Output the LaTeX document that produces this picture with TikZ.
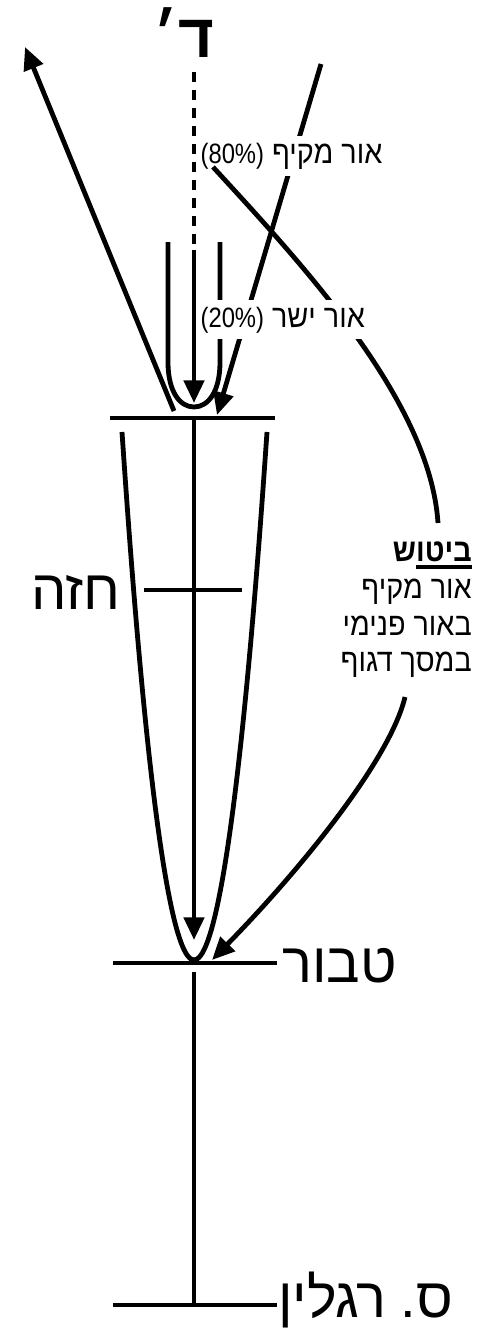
\documentclass[tikz,border=0pt]{standalone}
\usepackage{fontspec}
\setmainfont{Liberation Sans}
\newfontfamily\heb[Script=Hebrew]{Liberation Sans}
\newfontfamily\hebn[Script=Hebrew,FakeStretch=0.9]{Liberation Sans}
\newfontfamily\digitfont[FakeStretch=0.85]{Liberation Sans}
\TeXXeTstate=1
\usetikzlibrary{arrows.meta,calc}
% underline with a thick rule, kept in one box
\newcommand{\ulbox}[1]{\setbox0\hbox{#1}\hbox{\rlap{\rule[-5pt]{\wd0}{2.6pt}}\box0}}
\newcommand{\pct}[1]{{\digitfont\fontsize{21}{25}\selectfont(#1\%)}}

\begin{document}
\begin{tikzpicture}[x=0.75pt,y=-0.75pt,
    ln/.style={line width=3.6pt},
    arr/.style={ln,-{Triangle[length=17pt,width=15pt]}},
    dashpat/.style={ln,dash pattern=on 7.5pt off 6pt},
    small/.style={font=\hebn\fontsize{24}{27.5}\selectfont},
    big/.style={font=\heb\fontsize{42}{44}\selectfont,inner sep=0pt},
    cut/.style={small,fill=white,inner xsep=1pt,inner ysep=5pt}]
  \useasboundingbox (0,0) rectangle (494,1328);
  % Top label
  \node[font=\heb\bfseries\fontsize{46}{50}\selectfont,inner sep=0pt,anchor=base] (dalet) at (184,57) {\beginR ד׳\endR};
  % Points along the axis
  \coordinate (dtop) at (194,72);
  \coordinate (dmid) at (194,250);
  \coordinate (dtip) at (194,403);
  \coordinate (pehC) at (194,418);
  \coordinate (axtip) at (194,940);
  \coordinate (tabC) at (194,972);
  \coordinate (raglC) at (194,1305);
  % Horizontal levels
  \draw[ln] (110,418) -- (275,418);
  \draw[ln] (144,590) -- (242,590);
  \draw[ln] (113,963) -- (277,963);
  \draw[ln] (113,1305) -- (277,1305);
  % Axis
  \draw[dashpat] (dtop) -- (dmid);
  \draw[arr] (dmid) -- (dtip);
  \draw[arr] (pehC) -- (axtip);
  \draw[ln] (tabC) -- (raglC);
  % Inner vessel (above peh)
  \draw[ln] (168,242) -- (168,362) .. controls (168,392) and (180,407) .. (194,407)
     .. controls (208,407) and (220,392) .. (220,362) -- (220,242);
  % Outer vessel (peh to tabur)
  \draw[ln] (122,432) parabola bend (194,960) (267,432);
  % Reflected light going up
  \coordinate (refl0) at (174,411);
  \coordinate (refl1) at (25,47);
  \draw[arr] (refl0) -- (refl1);
  % Incoming light from above
  \coordinate (inc0) at (321,64);
  \coordinate (inc1) at (217,415);
  \draw[arr] (inc0) -- (inc1);
  % Labels
  \node[cut,anchor=base west] (lab80) at (199,163) {\pct{80} \beginR אור מקיף\endR};
  \coordinate (c80) at (213,167);
  \coordinate (cbit) at (438,523);
  \draw[ln] (c80) .. controls (300,262) and (430,400) .. (cbit);
  \node[cut,anchor=base west] (lab20) at (199,327) {\pct{20} \beginR אור ישר\endR};
  \node[small,align=right,anchor=east,inner sep=0pt] (bitush) at (472,610)
     {{\bfseries\beginR\ulbox{\beginR ביטו\endR}ש\endR}\\
      \beginR אור מקיף\endR\\
      \beginR באור פנימי\endR\\
      \beginR במסך דגוף\endR};
  \coordinate (bitB) at (405,697);
  \coordinate (tabtip) at (212,960);
  \draw[arr] (bitB) .. controls (390,760) and (300,870) .. (tabtip);
  \node[big,anchor=base east] (chest) at (121,609) {\beginR חזה\endR};
  \node[big,anchor=base west] (tabur) at (282,982) {\beginR טבור\endR};
  \node[big,anchor=base west] (ragl) at (278,1317) {\beginR ס.\hspace{0.25em}רגלין\endR};
\end{tikzpicture}
\end{document}
